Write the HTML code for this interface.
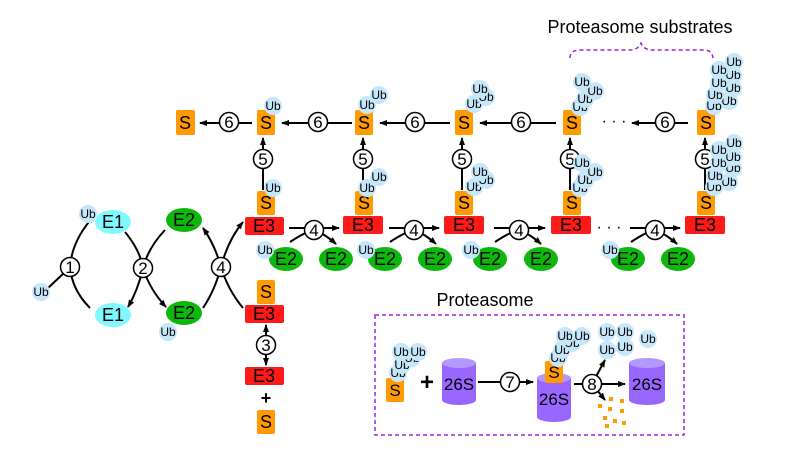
<!DOCTYPE html>
<html><head><meta charset="utf-8"><style>
html,body{margin:0;padding:0;background:#fff}
svg{display:block}
text{font-family:"Liberation Sans",Arial,sans-serif}
</style></head><body>
<svg width="800" height="449" viewBox="0 0 800 449" xmlns="http://www.w3.org/2000/svg">
<defs>
<marker id="ah" markerWidth="8" markerHeight="8" refX="7" refY="4" orient="auto" markerUnits="userSpaceOnUse">
<path d="M0,1 L8,4 L0,7 z" fill="#000"/></marker>
<g id="ub"><circle r="9" fill="#c6e6fa"/><text y="4" text-anchor="middle" font-size="12">Ub</text></g>
</defs>
<g stroke="#000" stroke-width="2" fill="none">
<path d="M48,288 L64,273"/>
<path d="M90,308 Q72,290 70,267 Q72,240 94,216" marker-end="url(#ah)"/>
<path d="M125,232 Q140,250 143,268 Q150,290 166,307" marker-end="url(#ah)"/>
<path d="M165,230 Q148,248 143,268 Q138,290 128,307" marker-end="url(#ah)"/>
<path d="M203,308 Q215,290 221,267 Q228,240 243,222" marker-end="url(#ah)"/>
<path d="M243,308 Q228,290 221,267 Q215,245 203,228" marker-end="url(#ah)"/>
<path d="M266,352 L266,325" marker-end="url(#ah)"/>
<path d="M266,338 L266,365" marker-end="url(#ah)"/>
<path d="M263,190 L263,138" marker-end="url(#ah)"/>
<path d="M363,190 L363,138" marker-end="url(#ah)"/>
<path d="M462,190 L462,138" marker-end="url(#ah)"/>
<path d="M570,190 L570,138" marker-end="url(#ah)"/>
<path d="M705,190 L705,138" marker-end="url(#ah)"/>
<path d="M252,123 L200,123" marker-end="url(#ah)"/>
<path d="M352,123 L282,123" marker-end="url(#ah)"/>
<path d="M450,123 L380,123" marker-end="url(#ah)"/>
<path d="M556,123 L480,123" marker-end="url(#ah)"/>
<path d="M688,123 L632,123" marker-end="url(#ah)"/>
<path d="M289,228 L339,228" marker-end="url(#ah)"/>
<path d="M290,242 Q305,232 314,230 Q325,234 336,244" marker-end="url(#ah)"/>
<path d="M389,228 L439,228" marker-end="url(#ah)"/>
<path d="M390,242 Q405,232 414,230 Q425,234 436,244" marker-end="url(#ah)"/>
<path d="M494,228 L545,228" marker-end="url(#ah)"/>
<path d="M495,242 Q510,232 519,230 Q530,234 541,244" marker-end="url(#ah)"/>
<path d="M630,228 L680,228" marker-end="url(#ah)"/>
<path d="M631,242 Q646,232 655,230 Q666,234 677,244" marker-end="url(#ah)"/>
<path d="M478,382 L533,382" marker-end="url(#ah)"/>
<path d="M574,384 L625,384" marker-end="url(#ah)"/>
<path d="M592,384 L605,360" marker-end="url(#ah)"/>
<path d="M592,384 L605,400" marker-end="url(#ah)"/>
</g>
<g stroke="#a020e0" stroke-width="1.5" fill="none" stroke-dasharray="4,3">
<path d="M570,58 Q570,50 580,50 L630,50 Q638,50 641,43 Q644,50 652,50 L704,50 Q712,50 713,58"/>
<rect x="375" y="315" width="309" height="120"/>
</g>
<g fill="#fff" stroke="#000" stroke-width="1.5">
<circle cx="70" cy="267" r="9.5"/><circle cx="143" cy="268" r="9.5"/><circle cx="221" cy="267" r="9.5"/>
<circle cx="266" cy="345" r="9.5"/>
<circle cx="263" cy="159" r="9.5"/><circle cx="363" cy="159" r="9.5"/><circle cx="462" cy="159" r="9.5"/><circle cx="570" cy="159" r="9.5"/><circle cx="705" cy="159" r="9.5"/>
<circle cx="229" cy="122" r="9.5"/><circle cx="318" cy="122" r="9.5"/><circle cx="415" cy="122" r="9.5"/><circle cx="521" cy="122" r="9.5"/><circle cx="665" cy="122" r="9.5"/>
<circle cx="314" cy="230" r="9.5"/><circle cx="414" cy="230" r="9.5"/><circle cx="519" cy="230" r="9.5"/><circle cx="655" cy="230" r="9.5"/>
<circle cx="510" cy="382" r="9.5"/><circle cx="592" cy="384" r="9.5"/>
</g>
<g font-size="17" text-anchor="middle">
<text x="70" y="273">1</text><text x="143" y="274">2</text><text x="221" y="273">4</text><text x="266" y="351">3</text>
<text x="263" y="165">5</text><text x="363" y="165">5</text><text x="462" y="165">5</text><text x="570" y="165">5</text><text x="705" y="165">5</text>
<text x="229" y="128">6</text><text x="318" y="128">6</text><text x="415" y="128">6</text><text x="521" y="128">6</text><text x="665" y="128">6</text>
<text x="314" y="236">4</text><text x="414" y="236">4</text><text x="519" y="236">4</text><text x="655" y="236">4</text>
<text x="510" y="388">7</text><text x="592" y="390">8</text>
</g>
<g font-size="18" text-anchor="middle">
<ellipse cx="113" cy="222" rx="18" ry="12" fill="#7ff9ff"/><text x="113" y="228">E1</text>
<ellipse cx="113" cy="315" rx="18" ry="12" fill="#7ff9ff"/><text x="113" y="321">E1</text>
<ellipse cx="184" cy="220" rx="18" ry="12" fill="#0cb80c"/><text x="184" y="226">E2</text>
<ellipse cx="184" cy="313" rx="18" ry="12" fill="#0cb80c"/><text x="184" y="319">E2</text>
<g fill="#0cb80c">
<ellipse cx="286" cy="259" rx="17" ry="12"/><ellipse cx="336" cy="259" rx="17" ry="12"/>
<ellipse cx="385" cy="259" rx="17" ry="12"/><ellipse cx="435" cy="259" rx="17" ry="12"/>
<ellipse cx="490" cy="259" rx="17" ry="12"/><ellipse cx="541" cy="259" rx="17" ry="12"/>
<ellipse cx="628" cy="259" rx="17" ry="12"/><ellipse cx="678" cy="259" rx="17" ry="12"/>
</g>
<text x="286" y="265">E2</text><text x="336" y="265">E2</text><text x="385" y="265">E2</text><text x="435" y="265">E2</text>
<text x="490" y="265">E2</text><text x="541" y="265">E2</text><text x="628" y="265">E2</text><text x="678" y="265">E2</text>
<g fill="#ff1a1a">
<rect x="245" y="217" width="39" height="18" rx="2"/><rect x="245" y="305" width="39" height="18" rx="2"/><rect x="245" y="367" width="39" height="18" rx="2"/>
<rect x="343" y="216" width="40" height="18" rx="2"/><rect x="444" y="216" width="40" height="18" rx="2"/>
<rect x="551" y="216" width="40" height="18" rx="2"/><rect x="685" y="216" width="40" height="18" rx="2"/>
</g>
<text x="264" y="232">E3</text><text x="264" y="320">E3</text><text x="264" y="382">E3</text>
<text x="363" y="231">E3</text><text x="464" y="231">E3</text><text x="571" y="231">E3</text><text x="705" y="231">E3</text>
<g fill="#ff9a00">
<rect x="257" y="191" width="18" height="24" rx="2"/><rect x="257" y="280" width="18" height="24" rx="2"/><rect x="257" y="410" width="18" height="24" rx="2"/>
<rect x="176" y="110" width="19" height="25" rx="2"/><rect x="257" y="110" width="18" height="25" rx="2"/>
<rect x="355" y="110" width="18" height="25" rx="2"/><rect x="355" y="191" width="18" height="24" rx="2"/>
<rect x="455" y="110" width="18" height="25" rx="2"/><rect x="455" y="191" width="18" height="24" rx="2"/>
<rect x="563" y="110" width="18" height="25" rx="2"/><rect x="563" y="191" width="18" height="24" rx="2"/>
<rect x="697" y="110" width="18" height="25" rx="2"/><rect x="697" y="191" width="18" height="24" rx="2"/>
</g>
<text x="266" y="209">S</text><text x="266" y="298">S</text><text x="266" y="428">S</text>
<text x="185" y="129">S</text><text x="266" y="129">S</text><text x="364" y="129">S</text><text x="464" y="129">S</text><text x="572" y="129">S</text><text x="706" y="129">S</text>
<text x="364" y="209">S</text><text x="464" y="209">S</text><text x="572" y="209">S</text><text x="706" y="209">S</text>
<text x="266" y="404" font-size="18" font-weight="bold">+</text>
<text x="427" y="390" font-size="24" font-weight="bold">+</text>
</g>
<text x="614" y="126" font-size="16" text-anchor="middle">· · ·</text>
<text x="609" y="232" font-size="16" text-anchor="middle">· · ·</text>
<use href="#ub" x="88" y="214"/><use href="#ub" x="41" y="292"/><use href="#ub" x="168" y="332"/>
<use href="#ub" x="265" y="250"/><use href="#ub" x="366" y="250"/><use href="#ub" x="471" y="250"/><use href="#ub" x="610" y="250"/>
<use href="#ub" x="273" y="188"/><use href="#ub" x="273" y="106"/>
<use href="#ub" x="367" y="188"/><use href="#ub" x="379" y="177"/>
<use href="#ub" x="367" y="105"/><use href="#ub" x="379" y="95"/>
<use href="#ub" x="474" y="187"/><use href="#ub" x="486" y="180"/><use href="#ub" x="480" y="172"/>
<use href="#ub" x="474" y="104"/><use href="#ub" x="486" y="97"/><use href="#ub" x="480" y="89"/>
<use href="#ub" x="580" y="188"/><use href="#ub" x="585" y="180"/><use href="#ub" x="595" y="172"/><use href="#ub" x="582" y="163"/>
<use href="#ub" x="580" y="107"/><use href="#ub" x="585" y="99"/><use href="#ub" x="595" y="91"/><use href="#ub" x="582" y="82"/>
<use href="#ub" x="714" y="187"/><use href="#ub" x="729" y="182"/><use href="#ub" x="715" y="176"/><use href="#ub" x="733" y="168"/><use href="#ub" x="719" y="163"/><use href="#ub" x="733" y="157"/><use href="#ub" x="719" y="150"/><use href="#ub" x="734" y="143"/>
<use href="#ub" x="714" y="106"/><use href="#ub" x="729" y="101"/><use href="#ub" x="715" y="95"/><use href="#ub" x="733" y="88"/><use href="#ub" x="719" y="83"/><use href="#ub" x="733" y="75"/><use href="#ub" x="719" y="70"/><use href="#ub" x="734" y="62"/>
<text x="640" y="33" font-size="18" text-anchor="middle">Proteasome substrates</text>
<text x="485" y="306" font-size="18" text-anchor="middle">Proteasome</text>
<g fill="#9966ff">
<path d="M442,363 L442,400 A17,5 0 0 0 476,400 L476,363 z"/>
<path d="M537,378 L537,417 A17,5 0 0 0 571,417 L571,378 z"/>
<path d="M629,363 L629,400 A18,5 0 0 0 665,400 L665,363 z"/>
</g>
<g fill="#b399ff"><ellipse cx="459" cy="363" rx="17" ry="5"/><ellipse cx="554" cy="378" rx="17" ry="5"/><ellipse cx="647" cy="363" rx="18" ry="5"/></g>
<g font-size="17" text-anchor="middle">
<text x="459" y="390">26S</text><text x="554" y="405">26S</text><text x="647" y="390">26S</text>
</g>
<rect x="386" y="378" width="18" height="24" rx="2" fill="#ff9a00"/><text x="395" y="396" font-size="17" text-anchor="middle">S</text>
<rect x="545" y="361" width="18" height="22" rx="2" fill="#ff9a00"/><text x="554" y="378" font-size="17" text-anchor="middle">S</text>
<use href="#ub" x="398" y="373"/><use href="#ub" x="402" y="365"/><use href="#ub" x="412" y="358"/><use href="#ub" x="401" y="352"/><use href="#ub" x="418" y="352"/>
<use href="#ub" x="558" y="358"/><use href="#ub" x="562" y="350"/><use href="#ub" x="572" y="343"/><use href="#ub" x="565" y="336"/><use href="#ub" x="582" y="336"/>
<use href="#ub" x="607" y="332"/><use href="#ub" x="625" y="332"/><use href="#ub" x="648" y="339"/><use href="#ub" x="607" y="350"/><use href="#ub" x="625" y="347"/>
<g fill="#ff9a00">
<rect x="598" y="404" width="4" height="4"/><rect x="608" y="407" width="4" height="4"/><rect x="620" y="399" width="4" height="4"/>
<rect x="609" y="397" width="4" height="4"/><rect x="620" y="409" width="4" height="4"/><rect x="603" y="416" width="4" height="4"/>
<rect x="613" y="419" width="4" height="4"/><rect x="622" y="421" width="4" height="4"/><rect x="605" y="424" width="4" height="4"/>
</g>
</svg>
</body></html>
